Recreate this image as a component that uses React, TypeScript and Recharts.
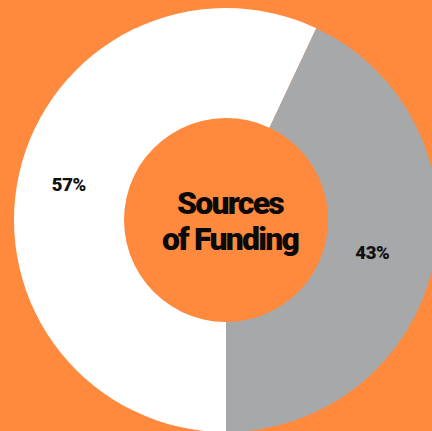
import React from 'react';
import { PieChart, Pie, Cell } from 'recharts';

// Funding split
const categories = ['Other', 'Primary'];
const shares = [57, 43];
const sliceColors = ['#FFFFFF', '#A7A8AA'];

const data = categories.map((name, i) => ({ name, value: shares[i] }));

const RADIAN = Math.PI / 180;

const renderLabel = ({ cx, cy, midAngle, index, value }: any) => {
  const r = index === 0 ? 161 : 150;
  const x = cx + r * Math.cos(-midAngle * RADIAN);
  const y = cy + r * Math.sin(-midAngle * RADIAN);
  return (
    <text
      x={x}
      y={y}
      textAnchor="middle"
      dominantBaseline="central"
      fill="#111"
      style={{ fontFamily: 'Roboto, sans-serif', fontWeight: 900, fontSize: 18.5, letterSpacing: -0.3 }}
    >
      {value}%
    </text>
  );
};

const App: React.FC = () => {
  return (
    <div
      style={{
        position: 'absolute',
        top: 0,
        left: 0,
        width: 432,
        height: 431,
        background: '#FF893C',
        overflow: 'hidden',
      }}
    >
      <PieChart width={432} height={431} margin={{ top: 0, right: 0, bottom: 0, left: 0 }}>
        <Pie
          data={data}
          dataKey="value"
          cx={226}
          cy={220}
          innerRadius={102}
          outerRadius={212}
          startAngle={-90}
          endAngle={-450}
          stroke="none"
          label={renderLabel}
          labelLine={false}
          isAnimationActive={false}
        >
          {data.map((d, i) => (
            <Cell key={d.name} fill={sliceColors[i]} />
          ))}
        </Pie>
      </PieChart>
      <div
        style={{
          position: 'absolute',
          left: 130,
          top: 185,
          width: 200,
          textAlign: 'center',
          fontFamily: 'Roboto, sans-serif',
          fontWeight: 900,
          fontSize: 32,
          lineHeight: '36px',
          letterSpacing: -1.8,
          color: '#0a0a0a',
        }}
      >
        Sources
        <br />
        of Funding
      </div>
    </div>
  );
};

export default App;
